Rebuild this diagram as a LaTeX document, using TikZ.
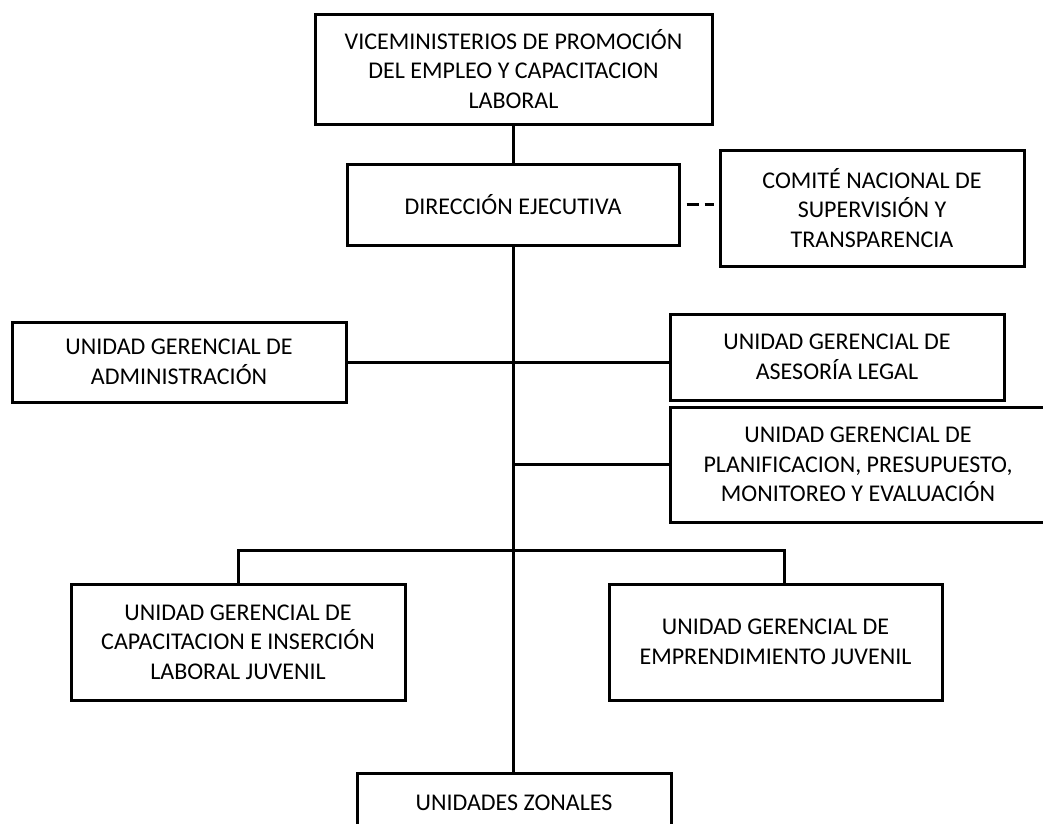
\documentclass[tikz,border=0pt]{standalone}
\usepackage{fontspec}
\setmainfont{Carlito}
\begin{document}
\begin{tikzpicture}[x=1pt,y=-1pt,
  unit/.style={draw,line width=3pt,inner sep=0pt,align=center,
    font=\fontsize{24}{29.5}\selectfont,text=black},
  link/.style={line width=3pt},
  dashlink/.style={line width=3pt,dash pattern=on 12pt off 6pt}]
\useasboundingbox (0,0) rectangle (1043,823);
\node[unit,minimum width=397pt,minimum height=110pt] (vice) at (513.5,69)
  {VICEMINISTERIOS DE PROMOCIÓN\\DEL EMPLEO Y CAPACITACION\\LABORAL};
\node[unit,minimum width=332pt,minimum height=81pt] (dir) at (513,204.5)
  {DIRECCIÓN EJECUTIVA};
\node[unit,minimum width=304pt,minimum height=116pt] (com) at (872,208)
  {COMITÉ NACIONAL DE\\SUPERVISIÓN Y\\TRANSPARENCIA};
\node[unit,minimum width=334pt,minimum height=80pt] (adm) at (179,362)
  {UNIDAD GERENCIAL DE\\ADMINISTRACIÓN};
\node[unit,minimum width=334pt,minimum height=86pt] (ase) at (837,357)
  {UNIDAD GERENCIAL DE\\ASESORÍA LEGAL};
\node[unit,minimum width=376pt,minimum height=115pt] (plan) at (858,464.5)
  {UNIDAD GERENCIAL DE\\PLANIFICACION, PRESUPUESTO,\\MONITOREO Y EVALUACIÓN};
\node[unit,minimum width=334pt,minimum height=116pt] (cap) at (238,642)
  {UNIDAD GERENCIAL DE\\CAPACITACION E INSERCIÓN\\LABORAL JUVENIL};
\node[unit,minimum width=333pt,minimum height=116pt] (emp) at (775.5,642)
  {UNIDAD GERENCIAL DE\\EMPRENDIMIENTO JUVENIL};
\node[unit,minimum width=314pt,minimum height=60pt] (zon) at (514,803)
  {UNIDADES ZONALES};
\coordinate (bus) at (514,550);
\coordinate (empdrop) at (784,550);
\draw[link] (vice.south) -- (vice.south |- dir.north);
\draw[dashlink,shorten <=6pt,shorten >=5pt] (dir.east) -- (dir.east -| com.west);
\draw[link] (dir.south) -- (dir.south |- zon.north);
\draw[link] (adm.east) -- (adm.east -| ase.west);
\draw[link] (plan.west -| bus) -- (plan.west);
\draw[link] (cap.north) |- (bus) -- (empdrop) -- (empdrop |- emp.north);
\end{tikzpicture}
\end{document}
